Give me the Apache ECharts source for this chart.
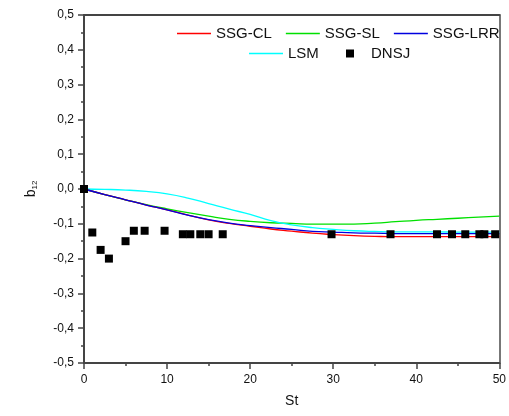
<!DOCTYPE html>
<html>
<head>
<meta charset="utf-8">
<script src="https://cdn.jsdelivr.net/npm/echarts@6/dist/echarts.min.js"></script>
<style>
html,body{margin:0;padding:0;background:#fff;}
#c{width:509px;height:416px;}
</style>
</head>
<body>
<div id="c"></div>
<script>
var stGrid = [0, 2.5, 5, 7.5, 10, 12.5, 15, 17.5, 20, 22.5, 25, 27.5, 30, 32.5, 35, 37.5, 40, 42.5, 45, 47.5, 50];
var ssgCL  = [0, -0.016, -0.031, -0.046, -0.060, -0.075, -0.089, -0.099, -0.107, -0.115, -0.121, -0.127, -0.131, -0.134, -0.136, -0.137, -0.137, -0.137, -0.137, -0.137, -0.137];
var ssgSL  = [0, -0.016, -0.031, -0.045, -0.057, -0.068, -0.078, -0.087, -0.093, -0.097, -0.099, -0.101, -0.101, -0.101, -0.098, -0.094, -0.090, -0.087, -0.084, -0.081, -0.078];
var ssgLRR = [0, -0.016, -0.031, -0.046, -0.060, -0.075, -0.088, -0.098, -0.105, -0.111, -0.116, -0.122, -0.124, -0.126, -0.127, -0.128, -0.128, -0.128, -0.128, -0.128, -0.128];
var lsm    = [0, -0.001, -0.003, -0.007, -0.014, -0.026, -0.042, -0.058, -0.073, -0.091, -0.103, -0.111, -0.116, -0.120, -0.122, -0.123, -0.123, -0.123, -0.124, -0.124, -0.124];
var dnsjSt = [0, 1, 2, 3, 5, 6, 7.3, 9.7, 11.9, 12.8, 14, 15, 16.7, 29.8, 36.9, 42.5, 44.3, 45.9, 47.6, 48.2, 49.5];
var dnsjB  = [0, -0.125, -0.175, -0.2, -0.15, -0.12, -0.12, -0.12, -0.13, -0.13, -0.13, -0.13, -0.13, -0.13, -0.13, -0.13, -0.13, -0.13, -0.13, -0.13, -0.13];

function pairs(xs, ys){ return xs.map(function(x,i){ return [x, ys[i]]; }); }
var font = 'Liberation Sans, Arial, sans-serif';
var axisCol = '#444';
function fmt(v){ return (Math.abs(v) < 1e-9 ? 0 : v).toFixed(1).replace('.', ','); }

var chart = echarts.init(document.getElementById('c'));
var legendText = {fontFamily: font, fontSize: 15, color: '#111'};
chart.setOption({
  animation: false,
  backgroundColor: '#fff',
  grid: {left: 84, right: 7, top: 15, bottom: 53, containLabel: false},
  legend: [
    {data: ['SSG-CL', 'SSG-SL', 'SSG-LRR'], left: 177, top: 26, icon: 'rect', itemWidth: 34, itemHeight: 1.4, itemGap: 14, textStyle: legendText, padding: 0},
    {data: ['LSM'], left: 249, top: 46, icon: 'rect', itemWidth: 34, itemHeight: 1.4, textStyle: legendText, padding: 0},
    {data: ['DNSJ'], left: 346, top: 46, icon: 'rect', itemWidth: 8, itemHeight: 8, padding: 0,
      textStyle: {fontFamily: font, fontSize: 15, color: '#111', padding: [0, 0, 0, 12]}}
  ],
  xAxis: [{
    type: 'value', min: 0, max: 50, interval: 10,
    name: 'St', nameLocation: 'middle', nameGap: 31,
    nameTextStyle: {fontFamily: font, fontSize: 14, color: '#111'},
    axisLine: {show: true, onZero: false, lineStyle: {color: axisCol, width: 2}},
    axisTick: {show: true, inside: false, length: 6, lineStyle: {color: axisCol, width: 1.5}},
    minorTick: {show: true, splitNumber: 2, length: 3, lineStyle: {color: axisCol, width: 1.5}},
    axisLabel: {fontFamily: font, fontSize: 12, color: '#111', margin: 11},
    splitLine: {show: false}
  }, {
    type: 'value', position: 'top', min: 0, max: 50,
    axisLine: {show: true, onZero: false, lineStyle: {color: axisCol, width: 2}},
    axisTick: {show: false}, axisLabel: {show: false}, splitLine: {show: false}
  }],
  yAxis: [{
    type: 'value', min: -0.5, max: 0.5, interval: 0.1,
    name: '{b|b}{s|12}', nameLocation: 'middle', nameGap: 45, nameRotate: 90,
    nameTextStyle: {fontFamily: font, fontSize: 14, color: '#111',
      rich: {b: {fontFamily: font, fontSize: 14, color: '#111'}, s: {fontFamily: font, fontSize: 8, color: '#111', padding: [8, 0, 0, 0]}}},
    axisLine: {show: true, onZero: false, lineStyle: {color: axisCol, width: 2}},
    axisTick: {show: true, inside: false, length: 6, lineStyle: {color: axisCol, width: 1.5}},
    minorTick: {show: true, splitNumber: 2, length: 3, lineStyle: {color: axisCol, width: 1.5}},
    axisLabel: {fontFamily: font, fontSize: 12, color: '#111', margin: 10, formatter: fmt},
    splitLine: {show: false}
  }, {
    type: 'value', position: 'right', min: -0.5, max: 0.5,
    axisLine: {show: true, onZero: false, lineStyle: {color: '#777', width: 2}},
    axisTick: {show: false}, axisLabel: {show: false}, splitLine: {show: false}
  }],
  series: [
    {name: 'SSG-CL', type: 'line', smooth: true, symbol: 'none', data: pairs(stGrid, ssgCL), lineStyle: {color: '#ff0000', width: 1.3}, itemStyle: {color: '#ff0000'}, z: 3},
    {name: 'SSG-SL', type: 'line', smooth: true, symbol: 'none', data: pairs(stGrid, ssgSL), lineStyle: {color: '#00e000', width: 1.3}, itemStyle: {color: '#00e000'}, z: 2},
    {name: 'SSG-LRR', type: 'line', smooth: true, symbol: 'none', data: pairs(stGrid, ssgLRR), lineStyle: {color: '#0000e0', width: 1.3}, itemStyle: {color: '#0000e0'}, z: 4},
    {name: 'LSM', type: 'line', smooth: true, symbol: 'none', data: pairs(stGrid, lsm), lineStyle: {color: '#00ffff', width: 1.3}, itemStyle: {color: '#00ffff'}, z: 2},
    {name: 'DNSJ', type: 'scatter', symbol: 'rect', symbolSize: 8, data: pairs(dnsjSt, dnsjB), itemStyle: {color: '#000', opacity: 1}, z: 5}
  ]
});
</script>
</body>
</html>
